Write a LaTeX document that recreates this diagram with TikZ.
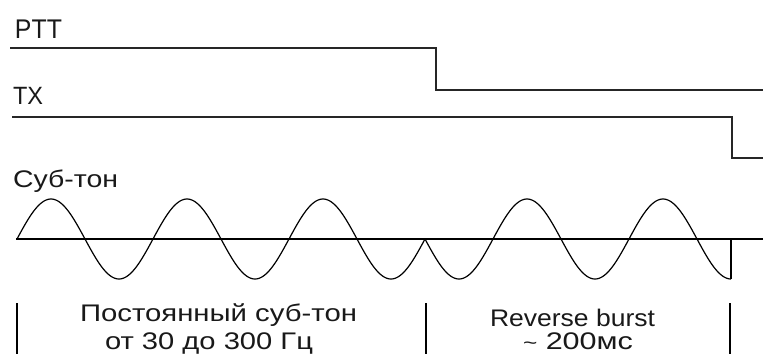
\documentclass[tikz,border=0pt]{standalone}
\usepackage{fontspec}
\setmainfont{Liberation Sans}
\usepackage{graphicx}
\begin{document}
\begin{tikzpicture}[x=1pt,y=-1pt,
  sigline/.style={line width=1.6pt, line join=miter, black!85},
  axisline/.style={line width=1.5pt, black},
  waveline/.style={line width=1.2pt, black},
  tickline/.style={line width=1.5pt, black},
  lbl/.style={anchor=base west, inner sep=0pt, outer sep=0pt, text=black!90},
]
\useasboundingbox (0,0) rectangle (763,354);

% PTT signal
\coordinate (p0) at (10,48);
\coordinate (p1) at (436,48);
\coordinate (p2) at (436,90);
\coordinate (p3) at (763,90);
\draw[sigline] (p0) -- (p1) -- (p2) -- (p3);

% TX signal
\coordinate (t0) at (12,117);
\coordinate (t1) at (732,117);
\coordinate (t2) at (732,158);
\coordinate (t3) at (763,158);
\draw[sigline] (t0) -- (t1) -- (t2) -- (t3);

% sub-tone axis
\coordinate (a0) at (16,239);
\coordinate (a1) at (763,239);
\draw[axisline] (a0) -- (a1);

% sub-tone wave: 3 periods, then phase-reversed burst
\draw[waveline] plot[domain=17:425, samples=241, smooth] (\x, {239-40*sin((\x-17)/68*180)});
\draw[waveline] plot[domain=425:731, samples=181, smooth] (\x, {239+40*sin((\x-425)/68*180)});
\coordinate (e0) at (731,279);
\coordinate (e1) at (731,239);
\draw[waveline] (e0) -- (e1);

% interval ticks
\coordinate (k0a) at (17,303);  \coordinate (k0b) at (17,354);
\coordinate (k1a) at (426,303); \coordinate (k1b) at (426,354);
\coordinate (k2a) at (730,303); \coordinate (k2b) at (730,354);
\draw[tickline] (k0a) -- (k0b);
\draw[tickline] (k1a) -- (k1b);
\draw[tickline] (k2a) -- (k2b);

% labels
\node[lbl, font=\fontsize{27}{27}\selectfont] (ptt) at (15,38) {\resizebox{47pt}{\height}{PTT}};
\node[lbl, font=\fontsize{25}{25}\selectfont] (tx) at (13,104) {\resizebox{30pt}{\height}{TX}};
\node[lbl, font=\fontsize{24}{24}\selectfont] (sub) at (13,187) {\resizebox{105pt}{\height}{Суб-тон}};
\node[lbl, font=\fontsize{24}{24}\selectfont] (c1) at (80,321) {\resizebox{277pt}{\height}{Постоянный суб-тон}};
\node[lbl, font=\fontsize{24}{24}\selectfont] (c2) at (105,349) {\resizebox{208pt}{\height}{от 30 до 300 Гц}};
\node[lbl, font=\fontsize{24}{24}\selectfont] (r1) at (490,326) {\resizebox{165pt}{\height}{Reverse burst}};
\node[lbl, font=\fontsize{24}{24}\selectfont] (r2) at (523,349) {\resizebox{110pt}{\height}{\scalebox{0.8}{\textasciitilde} 200мс}};
\end{tikzpicture}
\end{document}
